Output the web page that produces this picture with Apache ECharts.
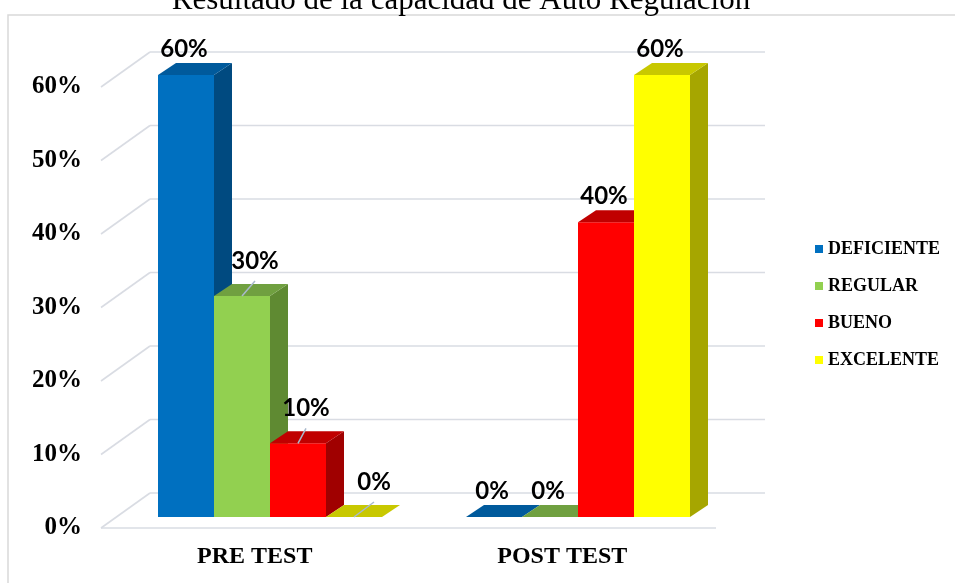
<!DOCTYPE html>
<html><head><meta charset="utf-8">
<script src="https://cdn.jsdelivr.net/npm/echarts@6/dist/echarts.min.js"></script>
<style>html,body{margin:0;padding:0;background:#fff}#c{width:955px;height:583px}</style>
</head><body><div id="c"></div>
<script>
// ---- data ----
const categories = ['PRE TEST', 'POST TEST'];
const seriesNames = ['DEFICIENTE', 'REGULAR', 'BUENO', 'EXCELENTE'];
const deficiente = [60, 0];
const regular = [30, 0];
const bueno = [10, 40];
const excelente = [0, 60];
const yTickValues = [0, 10, 20, 30, 40, 50, 60];

// ---- style ----
const values = [deficiente, regular, bueno, excelente];
const faces = [
  { front: '#0070C0', side: '#004A80', top: '#005A9C' },
  { front: '#92D050', side: '#5F8A32', top: '#70A040' },
  { front: '#FF0000', side: '#A00000', top: '#C00000' },
  { front: '#FFFF00', side: '#A6A600', top: '#C8C800' }
];
const DX = 18, DY = 12;        // bar depth
const GX = 49, GY = 35;        // wall depth
const BAR_RATIO = 56 / 308;
const labelNudge = { '1-0': 13, '2-0': 8, '3-0': 20 }; // moved labels (series-category)
const gridColor = '#D9DCE3';
const serif = '"Liberation Serif", "Times New Roman", serif';

const chart = echarts.init(document.getElementById('c'), null, { renderer: 'canvas' });

function barRender(si) {
  return function (params, api) {
    const cat = api.value(0), v = api.value(1);
    const band = api.size([1, 0])[0];
    const w = band * BAR_RATIO;
    const base = api.coord([cat, 0]);
    const topP = api.coord([cat, v]);
    const cx = base[0] + (si - 1.5) * w;
    const x0 = cx - w / 2, x1 = cx + w / 2;
    const yb = base[1], yt = topP[1];
    const f = faces[si];
    const children = [];
    if (v > 0) {
      children.push({ type: 'rect', shape: { x: x0, y: yt, width: w, height: yb - yt }, style: { fill: f.front } });
      children.push({ type: 'polygon', shape: { points: [[x1, yt], [x1 + DX, yt - DY], [x1 + DX, yb - DY], [x1, yb]] }, style: { fill: f.side } });
    }
    children.push({ type: 'polygon', shape: { points: [[x0, yt], [x1, yt], [x1 + DX, yt - DY], [x0 + DX, yt - DY]] }, style: { fill: f.top } });
    const key = si + '-' + cat;
    let lx, ly;
    if (labelNudge[key] !== undefined) {
      lx = cx + labelNudge[key]; ly = yt - 35;
      children.push({ type: 'line', shape: { x1: cx, y1: yt, x2: lx, y2: yt - 15 }, style: { stroke: '#A9B9CC', lineWidth: 1.5 } });
    } else {
      lx = cx - 2; ly = yt - 26;
    }
    children.push({ type: 'text', z2: 10, style: { text: v + '%', x: lx, y: ly, align: 'center', verticalAlign: 'middle', fill: '#000', font: 'bold 24px Lato, "Open Sans", sans-serif' } });
    return { type: 'group', children: children };
  };
}

function gridRender(params, api) {
  const v = api.value(1);
  const p = api.coord([0, v]);
  const cs = params.coordSys;
  const y = p[1];
  const st = { stroke: gridColor, lineWidth: 1.6 };
  const ch = [
    { type: 'line', shape: { x1: cs.x, y1: y, x2: cs.x + GX, y2: y - GY }, style: st },
    { type: 'line', shape: { x1: cs.x + GX, y1: y - GY, x2: cs.x + cs.width + GX, y2: y - GY }, style: st }
  ];
  if (v === 0) ch.push({ type: 'line', shape: { x1: cs.x, y1: y, x2: cs.x + cs.width, y2: y }, style: st });
  return { type: 'group', children: ch };
}

const series = [{
  type: 'custom', xAxisIndex: 1, yAxisIndex: 1, silent: true, z: 1,
  data: yTickValues.map(v => [0, v]), renderItem: gridRender, encode: { x: 0, y: 1 }
}];
values.forEach((vals, si) => {
  series.push({
    type: 'custom', name: seriesNames[si], xAxisIndex: 0, yAxisIndex: 0, z: 2 + si,
    itemStyle: { color: faces[si].front },
    data: vals.map((v, i) => [i, v]), renderItem: barRender(si), encode: { x: 0, y: 1 }
  });
});

chart.setOption({
  animation: false,
  backgroundColor: '#fff',
  title: {
    text: 'Resultado de la capacidad de Auto Regulación',
    left: 456, textAlign: 'center', top: -20,
    textStyle: { fontFamily: serif, fontSize: 31, fontWeight: 'normal', color: '#000' }
  },
  graphic: [{
    type: 'rect', z: -1, silent: true,
    shape: { x: 8, y: 15, width: 960, height: 580 },
    style: { fill: 'none', stroke: '#D9D9D9', lineWidth: 1.5 }
  }],
  legend: {
    orient: 'vertical', left: 810, top: 235,
    itemWidth: 8, itemHeight: 8, itemGap: 19, icon: 'rect',
    data: seriesNames,
    textStyle: { fontFamily: serif, fontSize: 18, fontWeight: 'bold', color: '#000' }
  },
  grid: [
    { left: 116, top: 75, width: 616, height: 442 },
    { left: 101, top: 87, width: 615, height: 441 }
  ],
  xAxis: [
    { type: 'category', gridIndex: 0, data: categories, show: false },
    { type: 'category', gridIndex: 1, data: categories,
      axisLine: { show: false }, axisTick: { show: false },
      axisLabel: { margin: 17, fontFamily: serif, fontSize: 24, fontWeight: 'bold', color: '#000' } }
  ],
  yAxis: [
    { type: 'value', gridIndex: 0, min: 0, max: 60, interval: 10, show: false },
    { type: 'value', gridIndex: 1, min: 0, max: 60, interval: 10,
      axisLine: { show: false }, axisTick: { show: false }, splitLine: { show: false },
      axisLabel: { margin: 19, formatter: '{value}%', fontFamily: serif, fontSize: 25, fontWeight: 'bold', color: '#000' } }
  ],
  series: series
});
</script>
</body></html>
